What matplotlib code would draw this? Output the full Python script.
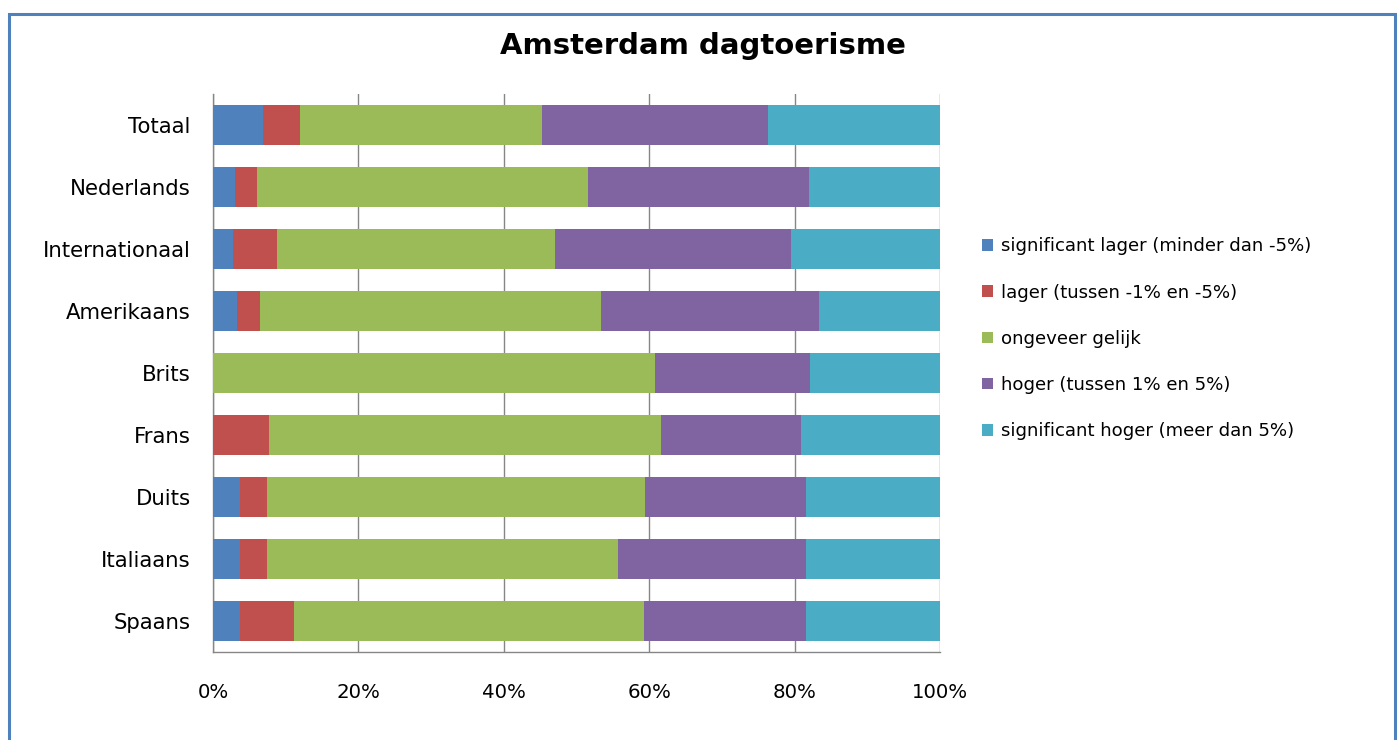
import matplotlib
matplotlib.use("Agg")
import matplotlib.pyplot as plt
import numpy as np
from matplotlib.patches import Rectangle
from matplotlib.ticker import FuncFormatter

# categories, top to bottom
categories = ['Totaal', 'Nederlands', 'Internationaal', 'Amerikaans', 'Brits',
              'Frans', 'Duits', 'Italiaans', 'Spaans']

# shares in % per category
sig_lager = [6.9, 3.0, 2.8, 3.3, 0.0, 0.0, 3.7, 3.7, 3.7]
lager = [5.0, 3.0, 6.0, 3.2, 0.0, 7.7, 3.7, 3.7, 7.4]
gelijk = [33.3, 45.5, 38.2, 46.9, 60.8, 53.9, 52.0, 48.3, 48.2]
hoger = [31.1, 30.5, 32.5, 30.0, 21.3, 19.3, 22.2, 25.9, 22.2]
sig_hoger = [23.7, 18.0, 20.5, 16.6, 17.9, 19.1, 18.4, 18.4, 18.5]

series = [sig_lager, lager, gelijk, hoger, sig_hoger]
labels = ['significant lager (minder dan -5%)',
          'lager (tussen -1% en -5%)',
          'ongeveer gelijk',
          'hoger (tussen 1% en 5%)',
          'significant hoger (meer dan 5%)']
colors = ['#4F81BD', '#C0504D', '#9BBB59', '#8064A2', '#4BACC6']

xticks = [0, 20, 40, 60, 80, 100]

fig = plt.figure(figsize=(13.99, 7.40), dpi=100)
ax = fig.add_axes([0.1523, 0.1189, 0.5197, 0.7541])

y = np.arange(len(categories))
left = np.zeros(len(categories))
handles = []
for vals, lab, col in zip(series, labels, colors):
    vals = np.array(vals)
    h = ax.barh(y, vals, left=left, height=0.63, color=col, label=lab, zorder=3)
    handles.append(h)
    left += vals

ax.set_ylim(len(categories) - 0.5, -0.5)
ax.set_xlim(0, 100)
ax.set_yticks(y)
ax.set_yticklabels(categories, fontsize=15.3)
ax.set_xticks(xticks)
ax.xaxis.set_major_formatter(FuncFormatter(lambda v, p: '%d%%' % v))
ax.tick_params(axis='y', length=0, pad=16)
ax.tick_params(axis='x', length=0, pad=22, labelsize=14.2)
ax.grid(True, axis='x', color='#868686', linewidth=1.0, zorder=0)

for s in ['top', 'right']:
    ax.spines[s].set_visible(False)
ax.spines['left'].set_color('#868686')
ax.spines['bottom'].set_color('#868686')
ax.spines['left'].set_linewidth(1.0)
ax.spines['bottom'].set_linewidth(1.0)

fig.text(0.5025, 0.938, 'Amsterdam dagtoerisme', ha='center', va='center',
         fontsize=21, fontweight='bold')

fig.legend(handles=handles, labels=labels, loc='upper left',
           bbox_to_anchor=(0.697, 0.689), frameon=False, fontsize=13.1,
           handlelength=0.6, handleheight=0.6, handletextpad=0.4,
           labelspacing=1.55, borderaxespad=0)

# outer border of the chart
fig.patches.append(Rectangle((9 / 1399, -0.05), (1395 - 9) / 1399, 1.05 - 14 / 740,
                             transform=fig.transFigure, fill=False,
                             edgecolor='#4F81BD', linewidth=2.2))

fig.savefig('out.png', dpi=100)
